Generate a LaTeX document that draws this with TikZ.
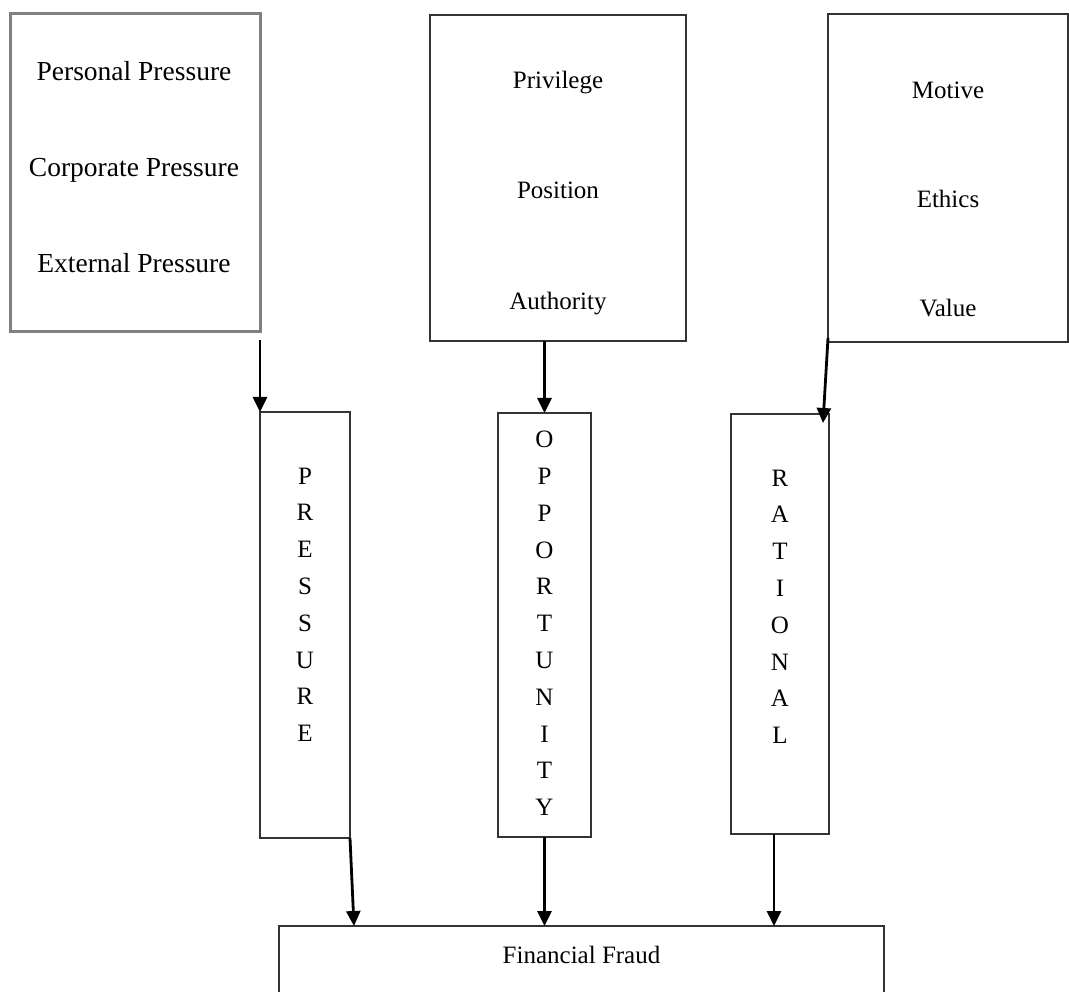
\documentclass[tikz,border=0pt]{standalone}
\usepackage{fontspec}
\setmainfont{Liberation Serif}
\usetikzlibrary{arrows.meta,calc,positioning}
\tikzstyle{block} = [rectangle, draw=black!80, line width=1.5pt, inner sep=0pt, outer sep=0pt]
\tikzstyle{greyblock} = [rectangle, draw=black!50, line width=3pt, inner sep=0pt, outer sep=0pt]
\tikzstyle{line} = [draw, -{Triangle[length=15pt,width=14pt]}, line width=2.8pt]
\tikzstyle{item} = [anchor=base, inner sep=0pt, font=\fontsize{25}{30}\selectfont]
\tikzstyle{bigitem} = [anchor=base, inner sep=0pt, font=\fontsize{27.5}{33}\selectfont]
\tikzstyle{letters} = [anchor=north, align=center, inner sep=0pt, font=\fontsize{25}{36.8}\selectfont]

\begin{document}
\begin{tikzpicture}[x=1pt, y=-1pt]
\clip (0,0) rectangle (1069,992);

% top boxes
\node [greyblock, minimum width=250pt, minimum height=318pt] (presbox) at (135,173) {};
\node [block, minimum width=256pt, minimum height=326pt] (opbox) at (558,178) {};
\node [block, minimum width=240pt, minimum height=328pt] (ratbox) at (948,178) {};

\node [bigitem] (personal) at (134,81) {Personal Pressure};
\node [bigitem] (corporate) at (134,177) {Corporate Pressure};
\node [bigitem] (external) at (134,273) {External Pressure};

\node [item] (privilege) at (558,89) {Privilege};
\node [item] (position) at (558,199) {Position};
\node [item] (authority) at (558,310) {Authority};

\node [item] (motive) at (948,99) {Motive};
\node [item] (ethics) at (948,208) {Ethics};
\node [item] (value) at (948,317) {Value};

% vertical boxes
\node [block, minimum width=90pt, minimum height=426pt] (presv) at (305,625) {};
\node [block, minimum width=93pt, minimum height=424pt] (oppv) at (544.5,625) {};
\node [block, minimum width=98pt, minimum height=420pt] (ratv) at (780,624) {};

\node [letters] (presword) at (305,467.5) {P\\R\\E\\S\\S\\U\\R\\E};
\node [letters] (oppword) at (544.5,431) {O\\P\\P\\O\\R\\T\\U\\N\\I\\T\\Y};
\node [letters] (ratword) at (780,469.5) {R\\A\\T\\I\\O\\N\\A\\L};

% bottom box
\node [block, minimum width=605pt, minimum height=84pt] (fraud) at (581.5,968) {};
\node [item] (fraudtext) at (581.5,963) {Financial Fraud};

% arrows
\path [line] ([yshift=-8pt]presbox.south east) -- (presv.north west);
\path [line] (oppv.north |- opbox.south) -- (oppv.north);
\path [line] ([yshift=4pt]ratbox.south west) -- ([xshift=-6pt,yshift=-9pt]ratv.north east);

\coordinate (pfoot) at ([xshift=4pt]presv.south east);
\coordinate (rfoot) at ([xshift=-6pt]ratv.south);
\path [line] (presv.south east) -- (pfoot |- fraud.north);
\path [line] (oppv.south) -- (oppv.south |- fraud.north);
\path [line] (rfoot) -- (rfoot |- fraud.north);

\end{tikzpicture}
\end{document}
